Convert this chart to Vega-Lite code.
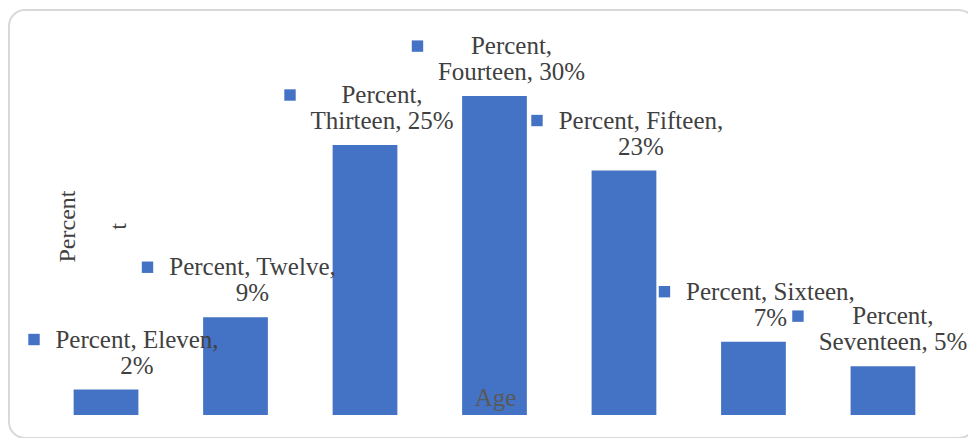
{
  "$schema": "https://vega.github.io/schema/vega-lite/v6.json",
  "width": 966,
  "height": 428,
  "autosize": {"type": "none"},
  "padding": {"left": 9, "top": 10, "right": 0, "bottom": 0},
  "background": "white",
  "config": {
    "view": {"stroke": "#d9d9d9", "strokeWidth": 2, "cornerRadius": 16},
    "font": "Liberation Serif"
  },
  "data": {
    "values": [
      {"age": "Eleven", "percent": 2.4, "label": ["Percent, Eleven,", "2%"]},
      {"age": "Twelve", "percent": 9.2, "label": ["Percent, Twelve,", "9%"]},
      {"age": "Thirteen", "percent": 25.4, "label": ["Percent,", "Thirteen, 25%"]},
      {"age": "Fourteen", "percent": 30, "label": ["Percent,", "Fourteen, 30%"]},
      {"age": "Fifteen", "percent": 23.0, "label": ["Percent, Fifteen,", "23%"]},
      {"age": "Sixteen", "percent": 6.9, "label": ["Percent, Sixteen,", "7%"]},
      {"age": "Seventeen", "percent": 4.6, "label": ["Percent,", "Seventeen, 5%"]}
    ]
  },
  "encoding": {
    "x": {
      "field": "age", "type": "nominal", "sort": null,
      "scale": {"paddingInner": 0.5, "paddingOuter": 0.48, "align": 0.52},
      "axis": {
        "orient": "bottom", "labels": false, "ticks": false, "domain": false, "grid": false,
        "title": "Age", "titleFont": "Liberation Serif", "titleFontSize": 25, "titleFontWeight": "normal",
        "titleColor": "#595959", "titleBaseline": "alphabetic", "titleY": -33, "titleX": 486, "zindex": 1
      }
    },
    "y": {
      "field": "percent", "type": "quantitative",
      "scale": {"domain": [-2.16, 38.1], "nice": false, "zero": false},
      "axis": {
        "labels": false, "ticks": false, "domain": false, "grid": false,
        "title": ["Percent", "t"], "titleFont": "Liberation Serif", "titleFontSize": 24, "titleFontWeight": "normal",
        "titleColor": "#404040", "titleLineHeight": 51, "titleX": 65, "titleY": 216, "titleAngle": -90,
        "titleBaseline": "alphabetic", "titleAlign": "center"
      }
    }
  },
  "layer": [
    {"mark": {"type": "bar", "color": "#4472C4"}, "encoding": {"y2": {"datum": 0}}},
    {
      "transform": [{"filter": "datum.age != 'Eleven' && datum.age != 'Seventeen'"}],
      "mark": {"type": "text", "font": "Liberation Serif", "fontSize": 25, "lineHeight": 26, "baseline": "middle", "align": "center", "dy": -50, "dx": 17, "color": "#404040"},
      "encoding": {"text": {"field": "label"}}
    },
    {
      "transform": [{"filter": "datum.age == 'Eleven'"}],
      "mark": {"type": "text", "font": "Liberation Serif", "fontSize": 25, "lineHeight": 26, "baseline": "middle", "align": "center", "dy": -50, "dx": 31, "color": "#404040"},
      "encoding": {"text": {"field": "label"}}
    },
    {
      "transform": [{"filter": "datum.age == 'Seventeen'"}],
      "mark": {"type": "text", "font": "Liberation Serif", "fontSize": 25, "lineHeight": 26, "baseline": "middle", "align": "center", "dy": -50, "dx": 10, "color": "#404040"},
      "encoding": {"text": {"field": "label"}}
    },
    {"transform": [{"filter": "datum.age == 'Eleven'"}], "mark": {"type": "point", "shape": "square", "filled": true, "opacity": 1, "size": 130, "color": "#4472C4", "xOffset": -72, "yOffset": -50}, "encoding": {}},
    {"transform": [{"filter": "datum.age == 'Twelve'"}], "mark": {"type": "point", "shape": "square", "filled": true, "opacity": 1, "size": 130, "color": "#4472C4", "xOffset": -88, "yOffset": -50}, "encoding": {}},
    {"transform": [{"filter": "datum.age == 'Thirteen'"}], "mark": {"type": "point", "shape": "square", "filled": true, "opacity": 1, "size": 130, "color": "#4472C4", "xOffset": -75, "yOffset": -50}, "encoding": {}},
    {"transform": [{"filter": "datum.age == 'Fourteen'"}], "mark": {"type": "point", "shape": "square", "filled": true, "opacity": 1, "size": 130, "color": "#4472C4", "xOffset": -77, "yOffset": -50}, "encoding": {}},
    {"transform": [{"filter": "datum.age == 'Fifteen'"}], "mark": {"type": "point", "shape": "square", "filled": true, "opacity": 1, "size": 130, "color": "#4472C4", "xOffset": -87, "yOffset": -50}, "encoding": {}},
    {"transform": [{"filter": "datum.age == 'Sixteen'"}], "mark": {"type": "point", "shape": "square", "filled": true, "opacity": 1, "size": 130, "color": "#4472C4", "xOffset": -89, "yOffset": -50}, "encoding": {}},
    {"transform": [{"filter": "datum.age == 'Seventeen'"}], "mark": {"type": "point", "shape": "square", "filled": true, "opacity": 1, "size": 130, "color": "#4472C4", "xOffset": -85, "yOffset": -50}, "encoding": {}}
  ]
}
